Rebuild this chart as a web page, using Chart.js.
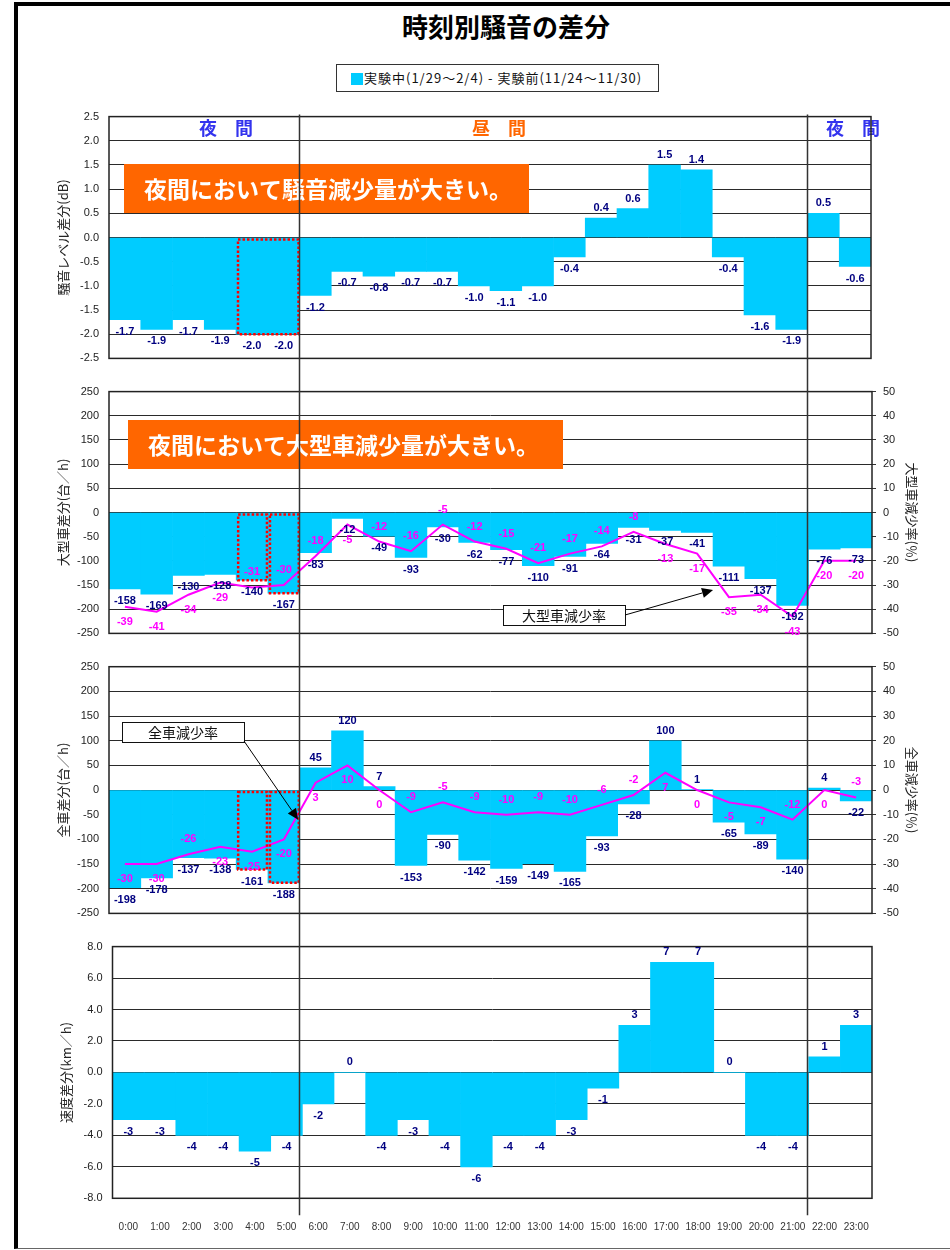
<!DOCTYPE html>
<html><head><meta charset="utf-8">
<script src="https://cdn.jsdelivr.net/npm/chart.js@4.4.1/dist/chart.umd.min.js"></script>
<style>
body{margin:0;width:950px;height:1250px;overflow:hidden;background:#fff;position:relative;font-family:'Noto Sans CJK JP',sans-serif}
#frame{position:absolute;left:14px;top:2px;width:960px;height:1247px;border-left:4px solid #000;border-top:4px solid #000;border-bottom:1px solid #666;box-sizing:border-box}
#title{position:absolute;left:306px;top:11px;width:400px;text-align:center;font-size:26px;line-height:30px;font-weight:bold;color:#000}
#legend{position:absolute;left:336px;top:64px;width:323px;height:28px;border:1px solid #333;box-sizing:border-box;font-size:13px;line-height:26px;color:#111;white-space:nowrap}
#legend span.sq{position:absolute;left:14px;top:8px;width:12px;height:12px;background:#00CCFF}
#legend span.tx{position:absolute;left:27px;top:0;letter-spacing:1px}
canvas{position:absolute;left:0}
</style></head>
<body>
<div id="frame"></div>
<div id="title">時刻別騒音の差分</div>
<div id="legend"><span class="sq"></span><span class="tx">実験中(1/29～2/4) - 実験前(11/24～11/30)</span></div>
<canvas id="c1" width="950" height="275" style="top:100px"></canvas>
<canvas id="c2" width="950" height="275" style="top:375px"></canvas>
<canvas id="c3" width="950" height="280" style="top:650px"></canvas>
<canvas id="c4" width="950" height="300" style="top:930px"></canvas>
<script>
// ---- data ----
const hours = ['0:00','1:00','2:00','3:00','4:00','5:00','6:00','7:00','8:00','9:00','10:00','11:00','12:00','13:00','14:00','15:00','16:00','17:00','18:00','19:00','20:00','21:00','22:00','23:00'];
const noiseDiff = [-1.7,-1.9,-1.7,-1.9,-2.0,-2.0,-1.2,-0.7,-0.8,-0.7,-0.7,-1.0,-1.1,-1.0,-0.4,0.4,0.6,1.5,1.4,-0.4,-1.6,-1.9,0.5,-0.6];
const largeDiff = [-158,-169,-130,-128,-140,-167,-83,-12,-49,-93,-30,-62,-77,-110,-91,-64,-31,-37,-41,-111,-137,-192,-76,-73];
const largeRate = [-39,-41,-34,-29,-31,-30,-18,-5,-12,-16,-5,-12,-15,-21,-17,-14,-8,-13,-17,-35,-34,-43,-20,-20];
const allDiff = [-198,-178,-137,-138,-161,-188,45,120,7,-153,-90,-142,-159,-149,-165,-93,-28,100,1,-65,-89,-140,4,-22];
const allRate = [-30,-30,-26,-23,-25,-20,3,10,0,-9,-5,-9,-10,-9,-10,-6,-2,7,0,-5,-7,-12,0,-3];
const speedDiff = [-3,-3,-4,-4,-5,-4,-2,0,-4,-3,-4,-6,-4,-4,-3,-1,3,7,7,0,-4,-4,1,3];
// label side for rate labels: 'a' above the line, 'b' below
const largeRateSide = ['b','b','b','b','a','a','a','b','a','a','a','a','a','a','a','a','a','b','b','b','b','b','b','b'];
const allRateSide = ['b','b','a','b','b','b','b','b','b','a','a','a','a','a','a','a','a','b','b','b','b','a','b','a'];
// axis ranges
const noiseTicks = {min:-2.5,max:2.5,step:0.5};
const countTicks = {min:-250,max:250,step:50};
const rateTicks = {min:-50,max:50,step:10};
const speedTicks = {min:-8,max:8,step:2};

const BAR = '#00CCFF', NAVY = '#000080', MAG = '#FF00FF';
const CJK = "'Noto Sans CJK JP', sans-serif";
Chart.defaults.font.family = "'Liberation Sans', Arial, sans-serif";
Chart.defaults.color = '#222';
const charts = [];

function drawText(ctx, txt, x, y, font, color, align){
  ctx.save(); ctx.font = font; ctx.fillStyle = color; ctx.textAlign = align||'center'; ctx.textBaseline = 'middle';
  ctx.fillText(txt, x, y); ctx.restore();
}
function barLabels(chart, dsIndex, fmt){
  const ctx = chart.ctx, meta = chart.getDatasetMeta(dsIndex), data = chart.data.datasets[dsIndex].data;
  meta.data.forEach((el,i)=>{
    const v = data[i];
    const y = v >= 0 ? el.y - 10 : el.y + 12;
    drawText(ctx, fmt(v), el.x, y, 'bold 11px "Liberation Sans", Arial', NAVY);
  });
}
function lineLabels(chart, dsIndex, sides){
  const ctx = chart.ctx, meta = chart.getDatasetMeta(dsIndex), data = chart.data.datasets[dsIndex].data;
  meta.data.forEach((el,i)=>{
    const y = sides[i] === 'a' ? el.y - 15 : el.y + 15;
    drawText(ctx, String(data[i]), el.x, y, 'bold 11px "Liberation Sans", Arial', MAG);
  });
}
function frame(chart){
  const a = chart.chartArea, ctx = chart.ctx;
  ctx.save(); ctx.strokeStyle = '#222'; ctx.lineWidth = 1.5;
  ctx.strokeRect(a.left, a.top, a.right - a.left, a.bottom - a.top); ctx.restore();
}
function dottedRect(chart, i0, i1, val){
  const xs = chart.scales.x, ys = chart.scales.y, ctx = chart.ctx;
  const l = xs.getPixelForValue(i0 - 0.5) + 2, r = xs.getPixelForValue(i1 + 0.5) - 1;
  const t = ys.getPixelForValue(0) + 2, b = ys.getPixelForValue(val);
  ctx.save(); ctx.strokeStyle = '#FF0000'; ctx.lineWidth = 2.5; ctx.setLineDash([2.5,2]);
  ctx.strokeRect(l, t, r - l, b - t); ctx.restore();
}
function orangeBox(chart, x, y, w, h, txt, tx){
  const ctx = chart.ctx;
  ctx.save(); ctx.fillStyle = '#FF6600'; ctx.fillRect(x, y, w, h); ctx.restore();
  drawText(ctx, txt, tx, y + h/2 + 1, 'bold 23px ' + CJK, '#fff', 'left');
}
function calloutArrow(chart, bx, by, bw, bh, txt, sx, sy, tx, ty){
  const ctx = chart.ctx;
  ctx.save();
  ctx.fillStyle = '#fff'; ctx.strokeStyle = '#111'; ctx.lineWidth = 1;
  ctx.fillRect(bx, by, bw, bh); ctx.strokeRect(bx + .5, by + .5, bw, bh);
  ctx.restore();
  drawText(ctx, txt, bx + bw/2, by + bh/2 + 1, '14px ' + CJK, '#111');
  ctx.save(); ctx.strokeStyle = '#000'; ctx.fillStyle = '#000'; ctx.lineWidth = 1;
  const ang = Math.atan2(ty - sy, tx - sx), hl = 11, hw = 5;
  const ex = tx - hl*Math.cos(ang), ey = ty - hl*Math.sin(ang);
  ctx.beginPath(); ctx.moveTo(sx, sy); ctx.lineTo(ex, ey); ctx.stroke();
  ctx.beginPath(); ctx.moveTo(tx, ty);
  ctx.lineTo(ex + hw*Math.sin(ang), ey - hw*Math.cos(ang));
  ctx.lineTo(ex - hw*Math.sin(ang), ey + hw*Math.cos(ang));
  ctx.closePath(); ctx.fill(); ctx.restore();
}
function dividers(chart, y0, y1){
  const xs = (charts[0] || chart).scales.x, ctx = chart.ctx;
  const xa = (xs.getPixelForValue(5) + xs.getPixelForValue(6)) / 2;
  const xb = (xs.getPixelForValue(21) + xs.getPixelForValue(22)) / 2;
  ctx.save(); ctx.strokeStyle = '#333'; ctx.lineWidth = 1.5;
  [xa, xb].forEach(x=>{ ctx.beginPath(); ctx.moveTo(x, y0); ctx.lineTo(x, y1); ctx.stroke(); });
  ctx.restore();
}

function leftAxis(t, title, width, fmt){
  return {
    position:'left', min:t.min, max:t.max,
    afterFit:s=>{ s.width = width; },
    afterBuildTicks:s=>{ const a=[]; for(let v=t.min; v<=t.max+1e-9; v+=t.step) a.push({value:+v.toFixed(3)}); s.ticks=a; },
    ticks:{ padding:10, font:{size:11}, color:'#222', callback:fmt },
    grid:{ color:'#2a2a2a', lineWidth:1, drawTicks:false },
    border:{ display:false },
    title:{ display:true, text:title, font:{family:CJK, size:13}, color:'#222', padding:{top:width - 54, bottom:0} }
  };
}
function rightAxis(t, title){
  return {
    position:'right', min:t.min, max:t.max,
    afterFit:s=>{ s.width = 78; },
    afterBuildTicks:s=>{ const a=[]; for(let v=t.min; v<=t.max; v+=t.step) a.push({value:v}); s.ticks=a; },
    ticks:{ padding:7, font:{size:11}, color:'#222' },
    grid:{ drawOnChartArea:false, drawTicks:true, tickLength:4, color:'#333' },
    border:{ display:false },
    title:{ display:true, text:title, font:{family:CJK, size:13}, color:'#222', padding:{top:30.5, bottom:0} }
  };
}
const hiddenX = { type:'category', display:false, offset:true, grid:{display:false} };
const base = { responsive:false, animation:false, devicePixelRatio:1, events:[],
  plugins:{ legend:{display:false}, tooltip:{enabled:false}, title:{display:false} } };
function barDs(data){ return { type:'bar', data, backgroundColor:BAR, borderWidth:0, barPercentage:1, categoryPercentage:1, yAxisID:'y', order:1 }; }
function lineDs(data){ return { type:'line', data, borderColor:MAG, borderWidth:2, pointRadius:0, tension:0, fill:false, yAxisID:'y2', order:0 }; }

// ---- Panel 1: noise level ----
charts.push(new Chart(document.getElementById('c1'), {
  type:'bar',
  data:{ labels:hours, datasets:[ barDs(noiseDiff) ] },
  options:Object.assign({}, base, {
    layout:{ padding:{ top:12.3, bottom:11.7, left:0, right:79 } },
    scales:{ x:hiddenX, y:leftAxis(noiseTicks, '騒音レベル差分(dB)', 109, v=>v.toFixed(1)) }
  }),
  plugins:[{ id:'p1', afterDatasetsDraw(chart){
    const ctx = chart.ctx;
    orangeBox(chart, 124, 64, 405, 49, '夜間において騒音減少量が大きい。', 144);
    drawText(ctx, '夜　間', 226, 28, 'bold 18px ' + CJK, '#3333EE');
    drawText(ctx, '昼　間', 499, 28, 'bold 18px ' + CJK, '#FF6600');
    drawText(ctx, '夜　間', 853, 28, 'bold 18px ' + CJK, '#3333EE');
    dottedRect(chart, 4, 5, Math.min(noiseDiff[4], noiseDiff[5]));
    frame(chart);
    barLabels(chart, 0, v=>v.toFixed(1));
  }, afterDraw(chart){ dividers(chart, chart.chartArea.top - 2, chart.height); } }]
}));

// ---- Panel 2: large vehicles ----
charts.push(new Chart(document.getElementById('c2'), {
  type:'bar',
  data:{ labels:hours, datasets:[ barDs(largeDiff), lineDs(largeRate) ] },
  options:Object.assign({}, base, {
    layout:{ padding:{ top:13.3, bottom:11, left:0, right:0 } },
    scales:{ x:hiddenX, y:leftAxis(countTicks, '大型車差分(台／h)', 109, v=>v), y2:rightAxis(rateTicks, '大型車減少率(％)') }
  }),
  plugins:[{ id:'p2', afterDatasetsDraw(chart){
    const ys = chart.scales.y2, xs = chart.scales.x;
    orangeBox(chart, 128, 45, 435, 49, '夜間において大型車減少量が大きい。', 148);
    dottedRect(chart, 4, 4, largeDiff[4]);
    dottedRect(chart, 5, 5, largeDiff[5]);
    frame(chart);
    barLabels(chart, 0, v=>String(v));
    lineLabels(chart, 1, largeRateSide);
    calloutArrow(chart, 503, 230, 122, 20, '大型車減少率', 625, 240, xs.getPixelForValue(18.5), ys.getPixelForValue(-32));
  }, afterDraw(chart){ dividers(chart, 0, chart.height); } }]
}));

// ---- Panel 3: all vehicles ----
charts.push(new Chart(document.getElementById('c3'), {
  type:'bar',
  data:{ labels:hours, datasets:[ barDs(allDiff), lineDs(allRate) ] },
  options:Object.assign({}, base, {
    layout:{ padding:{ top:16.7, bottom:11.7, left:0, right:0 } },
    scales:{ x:hiddenX, y:leftAxis(countTicks, '全車差分(台／h)', 109, v=>v), y2:rightAxis(rateTicks, '全車減少率(％)') }
  }),
  plugins:[{ id:'p3', afterDatasetsDraw(chart){
    const ys = chart.scales.y2, xs = chart.scales.x;
    dottedRect(chart, 4, 4, allDiff[4]);
    dottedRect(chart, 5, 5, allDiff[5]);
    frame(chart);
    barLabels(chart, 0, v=>String(v));
    lineLabels(chart, 1, allRateSide);
    calloutArrow(chart, 122, 72, 122, 20, '全車減少率', 244, 91, xs.getPixelForValue(5.45), ys.getPixelForValue(-12));
  }, afterDraw(chart){ dividers(chart, 0, chart.height); } }]
}));

// ---- Panel 4: speed ----
charts.push(new Chart(document.getElementById('c4'), {
  type:'bar',
  data:{ labels:hours, datasets:[ barDs(speedDiff) ] },
  options:Object.assign({}, base, {
    layout:{ padding:{ top:14.7, bottom:0, left:0, right:78 } },
    scales:{
      x:{ type:'category', offset:true, grid:{display:false}, border:{display:false},
          afterFit:s=>{ s.height = 31.7; },
          ticks:{ padding:15, font:{size:10}, color:'#333', maxRotation:0, autoSkip:false } },
      y:leftAxis(speedTicks, '速度差分(km／h)', 112.5, v=>v.toFixed(1))
    }
  }),
  plugins:[{ id:'p4', afterDatasetsDraw(chart){
    frame(chart);
    barLabels(chart, 0, v=>String(v));
  }, afterDraw(chart){ dividers(chart, 0, chart.chartArea.bottom + 17); } }]
}));
</script>
</body></html>
